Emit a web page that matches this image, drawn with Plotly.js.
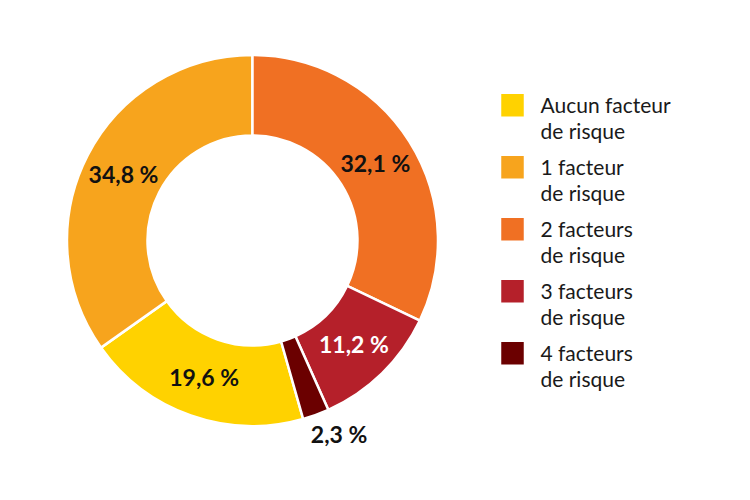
<!DOCTYPE html>
<html>
<head>
<meta charset="utf-8">
<script src="https://cdn.plot.ly/plotly-3.0.1.min.js"></script>
<style>
  html, body { margin: 0; padding: 0; background: #fff; }
  #chart { width: 750px; height: 500px; }
</style>
</head>
<body>
<div id="chart"></div>
<script>
// Répartition selon le nombre de facteurs de risque
const labels = [
  'Aucun facteur<br>de risque',
  '1 facteur<br>de risque',
  '2 facteurs<br>de risque',
  '3 facteurs<br>de risque',
  '4 facteurs<br>de risque',
];
const values = [19.6, 34.8, 32.1, 11.2, 2.3];
const valueText = ['19,6 %', '34,8 %', '32,1 %', '11,2 %', '2,3 %'];
const colors = ['#FFD200', '#F7A41D', '#F07023', '#B5202A', '#6B0000'];

const FONT = 'Lato, "Open Sans", sans-serif';

// "2 facteurs" démarre à midi : on décale le début de "Aucun"
const startAt = 100 - (values[0] + values[1]);

const trace = {
  type: 'pie',
  labels, values,
  text: valueText,
  textinfo: 'text',
  hoverinfo: 'label+text',
  sort: false,
  direction: 'clockwise',
  rotation: startAt / 100 * 360,
  hole: 0.566,
  domain: { x: [0.0893, 0.584], y: [0.148, 0.89] },
  marker: { colors, line: { color: '#ffffff', width: 2.5 } },
  textposition: ['inside', 'inside', 'inside', 'inside', 'outside'],
  insidetextorientation: 'horizontal',
  textfont: {
    family: FONT, size: 23, weight: 'bold',
    color: ['#111', '#111', '#111', '#fff', '#111'],
  },
};

const layout = {
  width: 750, height: 500,
  margin: { t: 0, b: 0, l: 0, r: 0 },
  paper_bgcolor: '#fff',
  font: { family: FONT, color: '#1a1a1a' },
  showlegend: true,
  legend: {
    x: 0.646, xanchor: 'left',
    y: 0.83, yanchor: 'top',
    valign: 'top',
    itemwidth: 46,
    font: { family: FONT, size: 21, color: '#1a1a1a' },
  },
};

Plotly.newPlot('chart', [trace], layout, { displayModeBar: false, staticPlot: true })
  .then(gd => {
    // pas de découpe de la légende (on l'agrandit à la main)
    gd.querySelectorAll('.legend [clip-path]').forEach(el => el.removeAttribute('clip-path'));
    let x0 = null, y0 = null;
    gd.querySelectorAll('.legend .traces').forEach((g, i) => {
      // carrés plus grands
      const p = g.querySelector('.legendpoints path');
      if (p) p.setAttribute('d', 'M12.5,12.5H-12.5V-12.5H12.5Z');
      // interligne un peu plus serré
      g.querySelectorAll('text.legendtext tspan.line').forEach((t, k) => {
        if (k > 0) t.setAttribute('dy', '1.2em');
      });
      // espacement régulier entre les entrées
      const m = /translate\(([-\d.]+),\s*([-\d.]+)\)/.exec(g.getAttribute('transform') || '');
      if (!m) return;
      if (x0 === null) { x0 = +m[1]; y0 = +m[2]; }
      g.setAttribute('transform', `translate(${x0},${y0 + i * 62})`);
    });
    // étiquette extérieure "2,3 %" un peu plus sous la tranche
    const slices = gd.querySelectorAll('.pielayer .slice');
    const last = slices[slices.length - 1];
    const t = last && last.querySelector('text.slicetext');
    if (t) t.setAttribute('transform', 'translate(-12,7) ' + (t.getAttribute('transform') || ''));
  });
</script>
</body>
</html>
